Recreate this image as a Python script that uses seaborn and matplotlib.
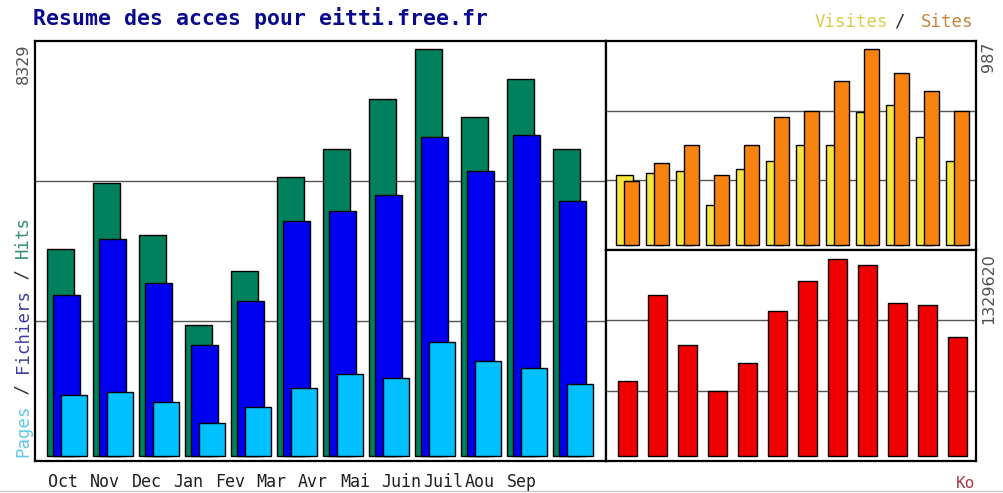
import numpy as np
import matplotlib
matplotlib.use("Agg")
import matplotlib.pyplot as plt
from matplotlib.lines import Line2D
import seaborn as sns

# monthly summary (Oct -> Sep)
months = ['Oct', 'Nov', 'Dec', 'Jan', 'Fev', 'Mar', 'Avr', 'Mai', 'Juin', 'Juil', 'Aou', 'Sep']
hits = [4236, 5592, 4522, 2680, 3785, 5715, 6282, 7305, 8329, 6936, 7714, 6282]
files = [3294, 4440, 3540, 2271, 3171, 4808, 5019, 5340, 6533, 5837, 6568, 5217]
pages = [1248, 1309, 1105, 675, 1003, 1397, 1684, 1602, 2339, 1938, 1807, 1479]
visits = [352, 361, 373, 201, 383, 423, 504, 504, 668, 705, 544, 423]
sites = [322, 411, 504, 352, 504, 645, 675, 826, 987, 868, 776, 675]
kbytes = [507000, 1086000, 748000, 437000, 627000, 980000, 1183000, 1329620, 1289000, 1032000, 1019000, 802000]

sns.set_style("white")
MONO = 'DejaVu Sans Mono'
W, H = 1004, 493

fig = plt.figure(figsize=(W / 100, H / 100), dpi=100)
fig.patch.set_facecolor('white')


def box(x0, y0, x1, y1):
    # pixel box (top-left origin) -> figure fraction rect
    return [x0 / W, 1 - y1 / H, (x1 - x0) / W, (y1 - y0) / H]


ax_l = fig.add_axes(box(35, 41, 606, 461))
ax_v = fig.add_axes(box(606, 41, 976, 250))
ax_k = fig.add_axes(box(606, 250, 976, 461))

idx = np.arange(len(months))


def bars(ax, offset, width, values, color):
    sns.barplot(x=idx + offset, y=values, native_scale=True, width=width,
                color=color, saturation=1, edgecolor='black', linewidth=1,
                errorbar=None, ax=ax)


# left panel: hits / files / pages
bars(ax_l, 0.293, 0.587, hits, '#00805c')
bars(ax_l, 0.424, 0.587, files, '#0000f0')
bars(ax_l, 0.574, 0.565, pages, '#00c0ff')
ax_l.set_xlim(-0.267, 12.146)
ax_l.set_ylim(-0.0123 * max(hits), 1.0197 * max(hits))

# top right: visits / sites
bars(ax_v, 0.278, 0.557, visits, '#f5e642')
bars(ax_v, 0.517, 0.5, sites, '#f7820f')
ax_v.set_xlim(-0.333, 12.0)
ax_v.set_ylim(-0.0255 * max(sites), 1.0408 * max(sites))

# bottom right: kbytes
bars(ax_k, 0.373, 0.633, kbytes, '#f00000')
ax_k.set_xlim(-0.333, 12.0)
ax_k.set_ylim(-0.027 * max(kbytes), 1.046 * max(kbytes))

for ax in (ax_l, ax_v, ax_k):
    ax.set_xticks([])
    ax.set_yticks([])
    ax.set_xlabel('')
    ax.set_ylabel('')
    ax.set_facecolor('white')
    for f in (1 / 3, 2 / 3):
        ax.plot([0, 1], [f, f], transform=ax.transAxes, color='#555555',
                lw=1, zorder=0.5)
    for s in ax.spines.values():
        s.set_color('black')
        s.set_linewidth(1.6)

# month labels (fixed-width, left aligned like the original)
for i, m in enumerate(months):
    fig.text((48 + 41.7 * i) / W, 1 - 482 / H, m, ha='left', va='center',
             family=MONO, fontsize=12, color='#202020')

# title
fig.text(33 / W, 1 - 18 / H, 'Resume des acces pour eitti.free.fr', ha='left',
         va='center', family=MONO, fontweight='bold', fontsize=15.5, color='#0a0a8c')

# Visites / Sites
fig.text(815 / W, 1 - 22 / H, 'Visites', ha='left', va='center', family=MONO,
         fontsize=12.5, color='#d8cc48')
fig.text(899 / W, 1 - 22 / H, '/', ha='center', va='center', family=MONO,
         fontsize=12.5, color='#303030')
fig.text(973 / W, 1 - 22 / H, 'Sites', ha='right', va='center', family=MONO,
         fontsize=12.5, color='#c8843c')

# Pages / Fichiers / Hits, rotated on the left
adv = 0.602 * 12.5 * 100 / 72
y = 457
for txt, col in [('Pages', '#5ec8e6'), (' / ', '#303030'), ('Fichiers', '#3c3ca8'),
                 (' / ', '#303030'), ('Hits', '#2f9070')]:
    fig.text(23 / W, 1 - y / H, txt, rotation=90, rotation_mode='anchor',
             ha='left', va='center', family=MONO, fontsize=12.5, color=col)
    y -= adv * len(txt)

# max values
fig.text(23 / W, 1 - 43 / H, str(max(hits)), rotation=90, ha='center', va='top',
         fontsize=11.5, color='#505050')
fig.text(989 / W, 1 - 42 / H, str(max(sites)), rotation=90, ha='center', va='top',
         fontsize=11.5, color='#505050')
fig.text(989 / W, 1 - 253 / H, str(max(kbytes)), rotation=90, ha='center', va='top',
         fontsize=11.5, color='#505050')

fig.text(975 / W, 1 - 483 / H, 'Ko', ha='right', va='center', family=MONO,
         fontsize=11.5, color='#a83848')

fig.add_artist(Line2D([0, 1], [1 - 491 / H, 1 - 491 / H], color='#c8c8c8', lw=1))

fig.savefig('out.png', dpi=100, facecolor='white')
